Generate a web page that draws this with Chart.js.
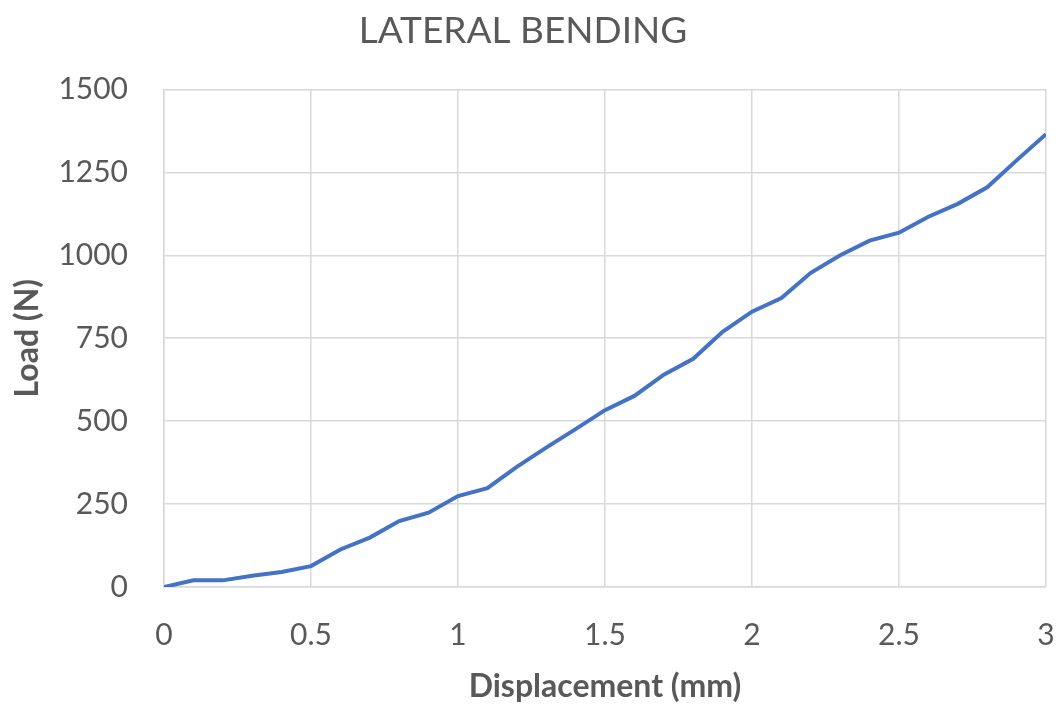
<!DOCTYPE html>
<html>
<head>
<meta charset="utf-8">
<script src="https://cdn.jsdelivr.net/npm/chart.js@4"></script>
<style>
  html, body { margin: 0; padding: 0; background: #fff; }
  #wrap { width: 1061px; height: 707px; }
</style>
</head>
<body>
<div id="wrap"><canvas id="chart"></canvas></div>
<script>
// data
const displacement = [0, 0.1, 0.2, 0.3, 0.4, 0.5, 0.6, 0.7, 0.8, 0.9, 1.0,
  1.1, 1.2, 1.3, 1.4, 1.5, 1.6, 1.7, 1.8, 1.9, 2.0,
  2.1, 2.2, 2.3, 2.4, 2.5, 2.6, 2.7, 2.8, 2.9, 3.0]
const load = [0, 20, 20, 34, 45, 63, 113, 149, 199, 224, 274,
  298, 362, 420, 476, 533, 576, 640, 688, 769, 830,
  871, 947, 1000, 1044, 1068, 1116, 1155, 1205, 1286, 1365]

const chartTitle = 'LATERAL BENDING'
const xTitle = 'Displacement (mm)'
const yTitle = 'Load (N)'

const textColor = '#595959'
const gridColor = '#d9d9d9'

Chart.defaults.font.family = 'Lato, "Open Sans", sans-serif'
Chart.defaults.color = textColor

const points = displacement.map((x, i) => ({ x: x, y: load[i] }))

new Chart(document.getElementById('chart'), {
  type: 'line',
  data: {
    datasets: [{
      label: 'Load',
      data: points,
      borderColor: '#4472c4',
      borderWidth: 4,
      pointRadius: 0,
      tension: 0,
      fill: false
    }]
  },
  options: {
    responsive: true,
    maintainAspectRatio: false,
    animation: false,
    layout: { padding: { left: 0, right: 15, top: 0, bottom: 0 } },
    plugins: {
      legend: { display: false },
      tooltip: { enabled: false },
      title: {
        display: true,
        text: chartTitle,
        color: textColor,
        font: { size: 37, weight: 'normal' },
        padding: { top: 9, bottom: 36 }
      }
    },
    scales: {
      x: {
        type: 'linear',
        min: 0,
        max: 3,
        ticks: {
          stepSize: 0.5, padding: 30, font: { size: 30 }, color: textColor,
          callback: (v) => String(v)
        },
        grid: { color: gridColor, lineWidth: 1.5, drawTicks: false },
        border: { color: gridColor, width: 1.5 },
        title: {
          display: true,
          text: xTitle,
          color: textColor,
          font: { size: 32, weight: 'bold' },
          padding: { top: 0, bottom: 1 }
        },
        afterFit: (scale) => {
          scale.height = 120
          scale.paddingLeft = 0
          scale.paddingRight = 0
        }
      },
      y: {
        min: 0,
        max: 1500,
        ticks: {
          stepSize: 250, padding: 36, font: { size: 30 }, color: textColor,
          callback: (v) => String(v)
        },
        grid: { color: gridColor, lineWidth: 1.5, drawTicks: false },
        border: { color: gridColor, width: 1.5 },
        title: {
          display: true,
          text: yTitle,
          color: textColor,
          font: { size: 32, weight: 'bold' },
          padding: { top: 8, bottom: 0 }
        },
        afterFit: (scale) => { scale.width = 164 }
      }
    }
  }
})
</script>
</body>
</html>
